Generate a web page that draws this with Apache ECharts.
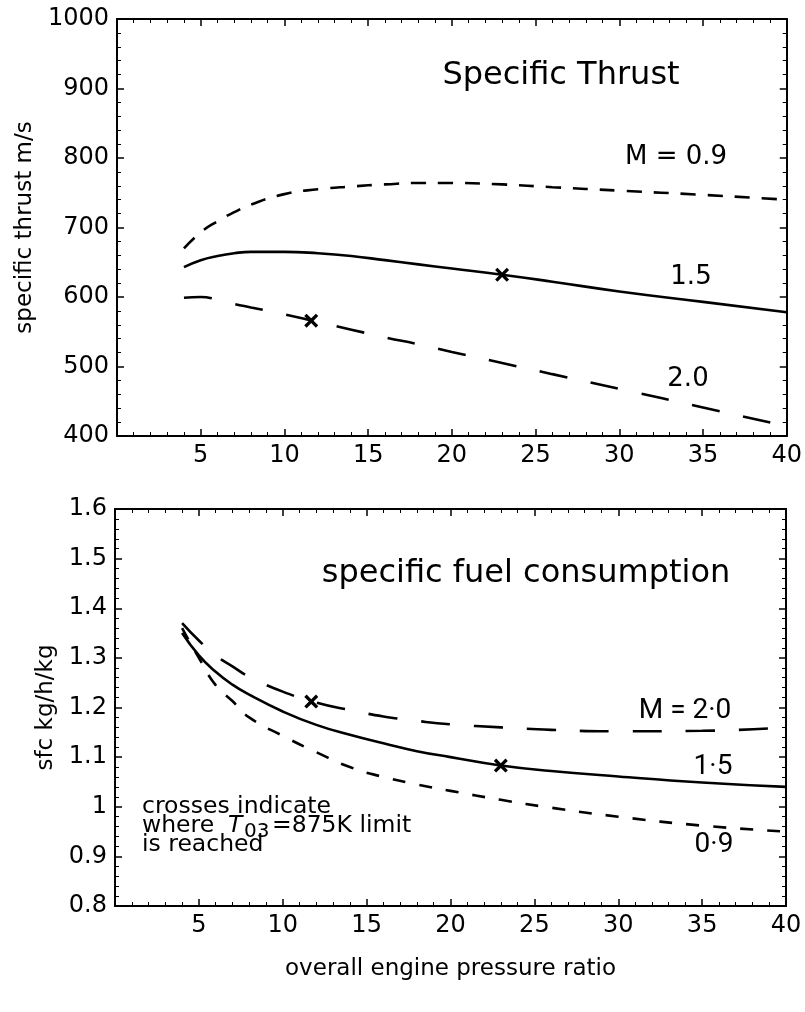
<!DOCTYPE html>
<html>
<head>
<meta charset="utf-8">
<script src="https://cdn.jsdelivr.net/npm/echarts@6/dist/echarts.min.js"></script>
<style>
  html, body { margin: 0; padding: 0; background: #fff; }
  #chart { width: 805px; height: 1012px; }
</style>
</head>
<body>
<div id="chart"></div>
<script>
// pressure ratio points
var ratio = [4, 5, 6, 7, 8, 10, 12, 14, 16, 18, 20, 23, 26, 30, 35, 40];

// specific thrust, m/s
var thrustM09 = [670, 693, 709, 722, 733, 748, 755, 759, 762, 764, 764, 762, 758, 753, 747, 740];
var thrustM15 = [643, 653, 659, 663, 665, 665, 663, 659, 653, 647, 641, 632, 622, 608, 593, 578];
var thrustM20 = [599, 600, 596, 590, 585, 575, 564, 553, 542, 532, 521, 505, 489, 468, 441, 414];
var thrustCross = [[11.6, 566], [23, 632]];

// sfc, kg/h/kg
var sfcM09 = [1.36, 1.30, 1.245, 1.213, 1.18, 1.143, 1.11, 1.08, 1.06, 1.045, 1.032, 1.014, 0.998, 0.98, 0.962, 0.95];
var sfcM15 = [1.35, 1.305, 1.272, 1.246, 1.226, 1.192, 1.165, 1.145, 1.128, 1.112, 1.10, 1.083, 1.072, 1.061, 1.049, 1.04];
var sfcM20 = [1.37, 1.335, 1.305, 1.283, 1.262, 1.232, 1.21, 1.195, 1.182, 1.173, 1.166, 1.16, 1.155, 1.152, 1.153, 1.16];
var sfcCross = [[11.7, 1.212], [23, 1.083]];

var FONT = '"DejaVu Sans", "Liberation Sans", sans-serif';
var LABEL_FONT = 'Roboto, "DejaVu Sans", sans-serif';
var crossSymbol = 'path://M0,2 L2,0 L6,4 L10,0 L12,2 L8,6 L12,10 L10,12 L6,8 L2,12 L0,10 L4,6 Z';

function pairs(xs, ys) {
  return xs.map(function (x, i) { return [x, ys[i]]; });
}

function xAx(grid, pos, showLabel, name) {
  return {
    type: 'value', gridIndex: grid, position: pos, min: 0, max: 40, interval: 5,
    name: name || '', nameLocation: 'middle', nameGap: 52,
    nameTextStyle: { fontSize: 23, color: '#000', fontFamily: FONT },
    axisLine: { onZero: false, lineStyle: { color: '#000', width: 2 } },
    axisTick: { inside: true, length: 7, lineStyle: { color: '#000', width: 1.5 } },
    minorTick: { show: true, splitNumber: 5, length: 4, lineStyle: { color: '#000', width: 1 } },
    splitLine: { show: false },
    axisLabel: {
      show: showLabel, fontSize: 24, color: '#000', fontFamily: FONT, margin: 8,
      formatter: function (v) { return v === 0 ? '' : String(v); }
    }
  };
}

function yAx(grid, pos, min, max, interval, showLabel, name, gap) {
  return {
    type: 'value', gridIndex: grid, position: pos, min: min, max: max, interval: interval,
    name: name || '', nameLocation: 'middle', nameGap: gap || 0,
    nameTextStyle: { fontSize: 23, color: '#000', fontFamily: FONT },
    axisLine: { onZero: false, lineStyle: { color: '#000', width: 2 } },
    axisTick: { inside: true, length: 7, lineStyle: { color: '#000', width: 1.5 } },
    minorTick: { show: true, splitNumber: 5, length: 4, lineStyle: { color: '#000', width: 1 } },
    splitLine: { show: false },
    axisLabel: {
      show: showLabel, fontSize: 24, color: '#000', fontFamily: FONT, margin: 8,
      formatter: function (v) { return String(Math.round(v * 10) / 10); }
    }
  };
}

function curve(xi, yi, data, dash) {
  return {
    type: 'line', xAxisIndex: xi, yAxisIndex: yi, data: data,
    smooth: true, symbol: 'none', silent: true,
    lineStyle: { color: '#000', width: 2.6, type: dash }
  };
}

function crosses(xi, yi, data) {
  return {
    type: 'scatter', xAxisIndex: xi, yAxisIndex: yi, data: data, symbol: crossSymbol,
    symbolSize: 14, itemStyle: { color: '#000', opacity: 1 }, silent: true, z: 5
  };
}

function txt(x, y, text, size, extra) {
  var style = {
    text: text, fontSize: size, fontFamily: FONT, fill: '#000',
    textAlign: 'center', textVerticalAlign: 'middle', align: 'center', verticalAlign: 'middle'
  };
  for (var k in extra) style[k] = extra[k];
  return { type: 'text', x: x, y: y, silent: true, style: style };
}

var chart = echarts.init(document.getElementById('chart'), null, { renderer: 'canvas' });

var option = {
  animation: false,
  backgroundColor: '#fff',
  grid: [
    { left: 117, top: 19, width: 670, height: 417 },
    { left: 115, top: 509, width: 671, height: 397 }
  ],
  xAxis: [
    xAx(0, 'bottom', true),
    xAx(0, 'top', false),
    xAx(1, 'bottom', true, 'overall engine pressure ratio'),
    xAx(1, 'top', false)
  ],
  yAxis: [
    yAx(0, 'left', 400, 1000, 100, true, 'specific thrust m/s', 72),
    yAx(0, 'right', 400, 1000, 100, false),
    yAx(1, 'left', 0.8, 1.6, 0.1, true, 'sfc kg/h/kg', 53),
    yAx(1, 'right', 0.8, 1.6, 0.1, false)
  ],
  series: [
    curve(0, 0, pairs(ratio, thrustM09), [15, 12]),
    curve(0, 0, pairs(ratio, thrustM15), 'solid'),
    curve(0, 0, pairs(ratio, thrustM20), [28, 24]),
    crosses(0, 0, thrustCross),
    curve(2, 2, pairs(ratio, sfcM09), [13, 14]),
    curve(2, 2, pairs(ratio, sfcM15), 'solid'),
    curve(2, 2, pairs(ratio, sfcM20), [29, 24]),
    crosses(2, 2, sfcCross)
  ],
  graphic: [
    txt(561, 76, 'Specific Thrust', 32),
    txt(676, 157, 'M = 0.9', 26),
    txt(691, 277, '1.5', 26),
    txt(688, 379, '2.0', 26),
    txt(526, 574, 'specific fuel consumption', 32),
    txt(685, 711, 'M = 2·0', 28, { fontFamily: LABEL_FONT }),
    txt(713, 767, '1·5', 28, { fontFamily: LABEL_FONT }),
    txt(714, 845, '0·9', 28, { fontFamily: LABEL_FONT }),
    txt(142, 807, 'crosses indicate', 23.5, { textAlign: 'left', align: 'left' }),
    txt(142, 826, 'where', 23.5, { textAlign: 'left', align: 'left' }),
    txt(228, 826, 'T', 23.5, { textAlign: 'left', align: 'left', fontStyle: 'italic' }),
    txt(244, 832, '03', 20, { textAlign: 'left', align: 'left' }),
    txt(272, 826, '=875K limit', 23.5, { textAlign: 'left', align: 'left' }),
    txt(142, 845, 'is reached', 23.5, { textAlign: 'left', align: 'left' })
  ]
};

chart.setOption(option);
</script>
</body>
</html>
